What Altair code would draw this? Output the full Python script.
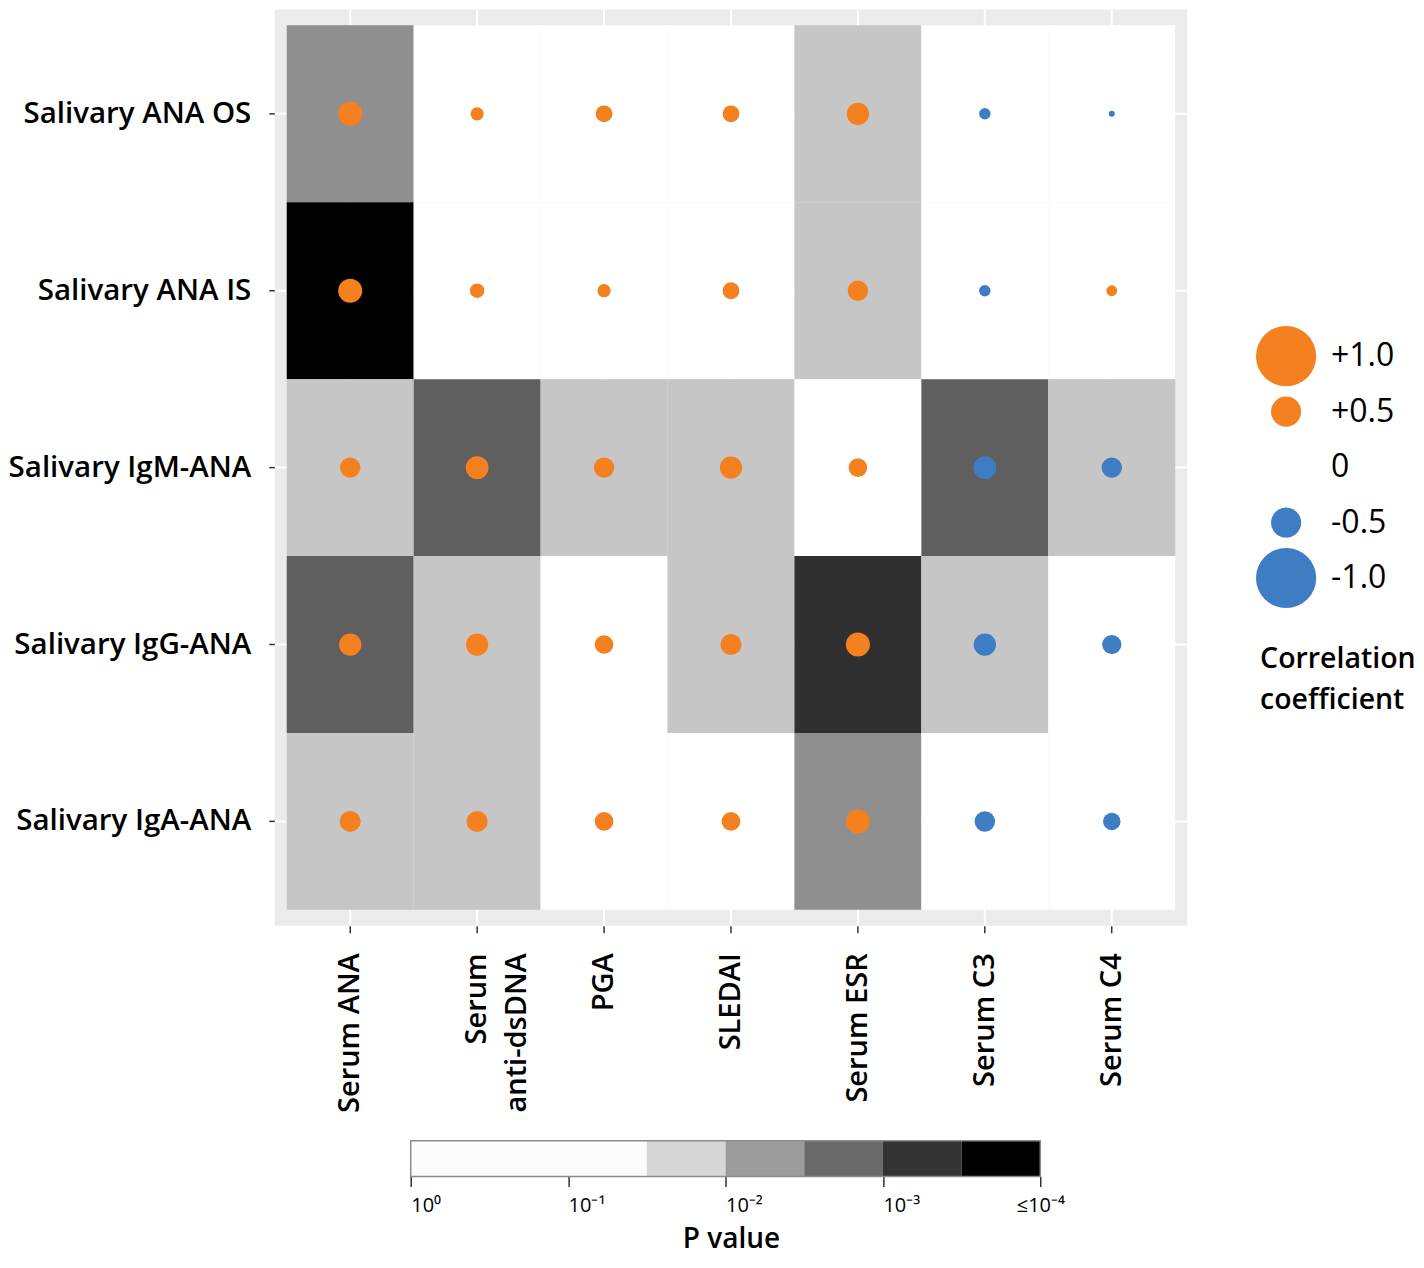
import altair as alt
import pandas as pd

FONT = "Open Sans"

# ---------------- data ----------------
rows = ["Salivary ANA OS", "Salivary ANA IS", "Salivary IgM-ANA",
        "Salivary IgG-ANA", "Salivary IgA-ANA"]
cols = ["Serum ANA", "Serum anti-dsDNA", "PGA", "SLEDAI",
        "Serum ESR", "Serum C3", "Serum C4"]

# correlation coefficients (read from circle diameters)
r_os = [0.40, 0.22, 0.28, 0.28, 0.37, -0.19, -0.10]
r_is = [0.40, 0.24, 0.22, 0.28, 0.34, -0.19, 0.18]
r_igm = [0.34, 0.38, 0.34, 0.37, 0.31, -0.38, -0.34]
r_igg = [0.37, 0.37, 0.31, 0.35, 0.40, -0.37, -0.32]
r_iga = [0.35, 0.35, 0.31, 0.31, 0.40, -0.34, -0.29]

# p values (read from tile shading)
p_os = [0.007, 0.3, 0.3, 0.3, 0.02, 0.3, 0.3]
p_is = [0.0001, 0.3, 0.3, 0.3, 0.02, 0.3, 0.3]
p_igm = [0.02, 0.002, 0.02, 0.02, 0.3, 0.002, 0.02]
p_igg = [0.002, 0.02, 0.3, 0.02, 0.0006, 0.02, 0.3]
p_iga = [0.02, 0.02, 0.3, 0.3, 0.007, 0.3, 0.3]

# p-value shading bins
p_thresholds = [10 ** -3.5, 10 ** -3, 10 ** -2.5, 10 ** -2, 10 ** -1.5]
tile_colors = ["#000000", "#303030", "#5F5F5F", "#8F8F8F", "#C6C6C6", "#FFFFFF"]

# colour bar (in -log10 p units)
bar_lo = [0, 1.5, 2, 2.5, 3, 3.5]
bar_hi = [1.5, 2, 2.5, 3, 3.5, 4]
bar_colors = ["#FCFCFC", "#D6D6D6", "#9C9C9C", "#6A6A6A", "#333333", "#000000"]
bar_ticks = [0, 1, 2, 3, 4]
bar_labels = ["10⁰", "10⁻¹", "10⁻²", "10⁻³", "≤10⁻⁴"]

# correlation legend
leg_vals = [1.0, 0.5, 0.0, -0.5, -1.0]
leg_labels = ["+1.0", "+0.5", "0", "-0.5", "-1.0"]

ORANGE = "#F4801F"
BLUE = "#3E7CC4"

# ---------------- tables ----------------
recs = []
for row, rv, pv in zip(rows, [r_os, r_is, r_igm, r_igg, r_iga],
                       [p_os, p_is, p_igm, p_igg, p_iga]):
    for col, r, p in zip(cols, rv, pv):
        recs.append(dict(row=row, col=col, r=r, absr=abs(r),
                         sign="pos" if r >= 0 else "neg", p=p))
df = pd.DataFrame(recs)
col_df = pd.DataFrame(dict(col=cols))
row_df = pd.DataFrame(dict(row=rows))

bar_df = pd.DataFrame(dict(lo=bar_lo, hi=bar_hi, color=bar_colors, band="P"))
frame_df = pd.DataFrame(dict(lo=[bar_lo[0]], hi=[bar_hi[-1]], band=["P"]))
leg_df = pd.DataFrame(dict(idx=list(range(len(leg_vals))), r=leg_vals,
                           absr=[abs(v) for v in leg_vals],
                           sign=["pos" if v >= 0 else "neg" for v in leg_vals],
                           label=leg_labels))

size_scale = alt.Scale(type="pow", exponent=2, domain=[0, 1], range=[0, 3632])
sign_scale = alt.Scale(domain=["pos", "neg"], range=[ORANGE, BLUE])

# ---------------- main panel ----------------
x_enc = alt.X(
    "col:N", sort=cols,
    scale=alt.Scale(paddingInner=0, paddingOuter=0.094),
    axis=alt.Axis(
        title=None, labelAngle=-90, labelFont=FONT, labelFontSize=29,
        labelFontWeight=600, labelColor="black", labelPadding=20, labelLimit=400,
        labelExpr="datum.label == 'Serum anti-dsDNA' ? ['Serum', 'anti-dsDNA'] : datum.label",
        labelLineHeight=40,
        domain=False, ticks=True, tickColor="#333333", tickSize=7, tickWidth=1.5,
        grid=False,
    ),
)
y_enc = alt.Y(
    "row:N", sort=rows,
    scale=alt.Scale(paddingInner=0, paddingOuter=0.09),
    axis=alt.Axis(
        title=None, labelFont=FONT, labelFontSize=29.5, labelFontWeight=600,
        labelColor="black", labelPadding=18, labelLimit=400,
        minExtent=266, maxExtent=266,
        domain=False, ticks=True, tickColor="#333333", tickSize=6, tickWidth=1.5,
        grid=False,
    ),
)

vgrid = alt.Chart(col_df).mark_rule(color="white", strokeWidth=2).encode(x=x_enc)
hgrid = alt.Chart(row_df).mark_rule(color="white", strokeWidth=2).encode(y=y_enc)
tiles = alt.Chart(df).mark_rect().encode(
    x=x_enc, y=y_enc,
    color=alt.Color("p:Q", scale=alt.Scale(type="threshold", domain=p_thresholds,
                                           range=tile_colors), legend=None),
)
dots = alt.Chart(df).mark_circle(opacity=1).encode(
    x=x_enc, y=y_enc,
    size=alt.Size("absr:Q", scale=size_scale, legend=None),
    color=alt.Color("sign:N", scale=sign_scale, legend=None),
)
main = alt.layer(vgrid, hgrid, tiles, dots).resolve_scale(color="independent").properties(
    width=913, height=917,
    view=alt.ViewBackground(fill="#EBEBEB", stroke=None),
)

# ---------------- p value colour bar ----------------
label_arr = "[" + ",".join("'" + s + "'" for s in bar_labels) + "]"
bx = alt.X(
    "lo:Q",
    scale=alt.Scale(domain=[-0.8635, 4.933], nice=False, zero=False),
    axis=alt.Axis(
        values=bar_ticks, labelExpr=label_arr + "[datum.value]",
        labelFont=FONT, labelFontSize=20, labelColor="black", labelPadding=9,
        labelFlush=False,
        labelAlign={"condition": {"test": "datum.value == 4", "value": "center"},
                    "value": "left"},
        tickSize=10, tickColor="#333333", tickWidth=1.5, domain=False, grid=False,
        title="P value", titleFont=FONT, titleFontSize=28, titleFontWeight=600,
        titleColor="black", titlePadding=10,
    ),
)
by = alt.Y("band:N", scale=alt.Scale(paddingInner=0, paddingOuter=0),
           axis=alt.Axis(title=None, labels=False, ticks=False, domain=False,
                         grid=False, minExtent=266, maxExtent=266))
bar_rects = alt.Chart(bar_df).mark_rect().encode(
    x=bx, x2="hi:Q", y=by, color=alt.Color("color:N", scale=None))
bar_frame = alt.Chart(frame_df).mark_rect(fill=None, stroke="#8C8C8C", strokeWidth=1.5).encode(
    x=bx, x2="hi:Q", y=by)
colorbar = alt.layer(bar_rects, bar_frame).properties(width=913, height=36)

# ---------------- correlation legend ----------------
ly = alt.Y("idx:Q", scale=alt.Scale(domain=[-6.252, 5.10], reverse=True, nice=False, zero=False),
           axis=None)
leg_dots = alt.Chart(leg_df).mark_circle(opacity=1).encode(
    x=alt.value(40), y=ly,
    size=alt.Size("absr:Q", scale=size_scale, legend=None),
    color=alt.Color("sign:N", scale=sign_scale, legend=None),
)
leg_text = alt.Chart(leg_df).mark_text(align="left", baseline="middle", font=FONT,
                                       fontSize=32, color="black").encode(
    x=alt.value(85), y=ly, text="label:N")
legend = alt.layer(leg_dots, leg_text).properties(
    width=150, height=630,
    title=alt.TitleParams(["Correlation", "coefficient"], orient="bottom", anchor="start",
                          font=FONT, fontSize=28.5, fontWeight=600, color="black",
                          lineHeight=41, offset=6, dx=14),
)

chart = alt.hconcat(
    alt.vconcat(main, colorbar, spacing=27),
    legend, spacing=58,
).properties(
    padding={"left": 0, "top": 0, "right": 0, "bottom": 6}
).configure_view(stroke=None)

chart.save("out.html", embed_options={"renderer": "svg", "actions": False})
